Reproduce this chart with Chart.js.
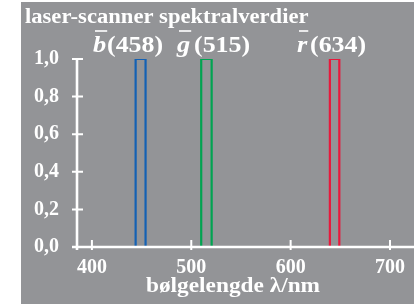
<!DOCTYPE html>
<html>
<head>
<meta charset="utf-8">
<script src="https://cdn.jsdelivr.net/npm/chart.js@4"></script>
<style>
html,body{margin:0;padding:0;background:#fff;}
canvas{display:block;}
</style>
</head>
<body>
<canvas id="c" width="414" height="308"></canvas>
<script>
// ---- data ----
const bandLetters = ['b', 'g', 'r'];
const peakWavelengths = [458, 515, 634];
const bandStart = [444, 510, 639.5];
const bandEnd = [454, 520.5, 649];
const bandHeight = [1.0, 1.0, 1.0];
const yTicks = [0, 0.2, 0.4, 0.6, 0.8, 1.0];
const xTicks = [400, 500, 600, 700];
const titleText = 'laser-scanner spektralverdier';
const xTitleText = 'bølgelengde λ/nm';

const colors = ['#1461b4', '#00a451', '#e8193c'];
const serif = '"Liberation Serif", "DejaVu Serif", serif';

const datasets = bandLetters.map((l, i) => ({
  label: l,
  data: [
    {x: bandStart[i], y: 0},
    {x: bandStart[i], y: bandHeight[i]},
    {x: bandEnd[i], y: bandHeight[i]},
    {x: bandEnd[i], y: 0}
  ],
  borderColor: colors[i],
  borderWidth: 2.2,
  pointRadius: 0,
  fill: false,
  tension: 0
}));

// label layout (pixels)
const letterX = [93, 177, 297];
const parenX = [107, 194, 310];

function stretchedText(ctx, text, x, y, sx) {
  ctx.save();
  ctx.translate(x, y);
  ctx.scale(sx, 1);
  ctx.fillText(text, 0, 0);
  ctx.restore();
  return ctx.measureText(text).width * sx;
}

const decor = {
  id: 'decor',
  beforeDraw(chart) {
    const ctx = chart.ctx;
    ctx.save();
    ctx.fillStyle = '#ffffff';
    ctx.fillRect(0, 0, chart.width, chart.height);
    ctx.fillStyle = '#939497';
    ctx.fillRect(21, 2, chart.width - 21, 302);
    ctx.restore();
  },
  afterDraw(chart) {
    const ctx = chart.ctx;
    const xs = chart.scales.x, ys = chart.scales.y;
    const x0 = xs.getPixelForValue(xs.min);
    const y0 = ys.getPixelForValue(0);
    const y1 = ys.getPixelForValue(1);
    ctx.save();
    ctx.strokeStyle = '#ffffff';
    ctx.lineWidth = 2.6;
    ctx.beginPath();
    ctx.moveTo(x0, y1); ctx.lineTo(x0, y0 + 3);
    ctx.moveTo(x0 - 5, y0); ctx.lineTo(chart.width, y0);
    ctx.stroke();
    ctx.lineWidth = 2;
    ctx.beginPath();
    yTicks.forEach(v => {
      const y = ys.getPixelForValue(v);
      ctx.moveTo(x0 - 5, y); ctx.lineTo(x0 + 6, y);
    });
    xTicks.forEach(v => {
      const x = xs.getPixelForValue(v);
      ctx.moveTo(x, y0 - 7); ctx.lineTo(x, y0 + 3);
    });
    ctx.stroke();

    ctx.fillStyle = '#ffffff';
    ctx.textBaseline = 'alphabetic';
    ctx.textAlign = 'left';

    // title
    ctx.font = 'bold 20px ' + serif;
    stretchedText(ctx, titleText, 25, 22.5, 1.13);

    // x axis title
    ctx.font = 'bold 22px ' + serif;
    const tw = ctx.measureText(xTitleText).width * 1.06;
    stretchedText(ctx, xTitleText, 233 - tw / 2, 292, 1.06);

    // band labels
    bandLetters.forEach((l, i) => {
      const base = 52;
      ctx.font = 'italic bold 24px ' + serif;
      const lw = stretchedText(ctx, l, letterX[i], base, 1.1);
      ctx.lineWidth = 1.6;
      ctx.beginPath();
      ctx.moveTo(letterX[i] + 2, 31); ctx.lineTo(letterX[i] + lw + 1, 31);
      ctx.stroke();
      ctx.font = 'bold 24px ' + serif;
      stretchedText(ctx, '(' + peakWavelengths[i] + ')', parenX[i], base, 1.08);
    });
    ctx.restore();
  }
};

new Chart(document.getElementById('c'), {
  type: 'line',
  data: {datasets},
  options: {
    responsive: false,
    animation: false,
    events: [],
    layout: {padding: {top: 59, right: 0, bottom: 0, left: 0}},
    plugins: {legend: {display: false}, tooltip: {enabled: false}, title: {display: false}},
    scales: {
      x: {
        type: 'linear',
        min: 385,
        max: 719,
        grid: {display: false, drawTicks: false},
        border: {display: false},
        afterBuildTicks(s) { s.ticks = xTicks.map(v => ({value: v})); },
        afterFit(s) { s.height = 61; },
        ticks: {
          color: '#ffffff',
          padding: 9,
          maxRotation: 0,
          font: {family: serif, size: 20, weight: 'bold'},
          callback: v => String(v)
        }
      },
      y: {
        type: 'linear',
        min: 0,
        max: 1,
        grid: {display: false, drawTicks: false},
        border: {display: false},
        afterBuildTicks(s) { s.ticks = yTicks.map(v => ({value: v})); },
        afterFit(s) { s.width = 77; },
        ticks: {
          color: '#ffffff',
          padding: 18,
          font: {family: serif, size: 20, weight: 'bold'},
          callback: v => v.toFixed(1).replace('.', ',')
        }
      }
    }
  },
  plugins: [decor]
});
</script>
</body>
</html>
